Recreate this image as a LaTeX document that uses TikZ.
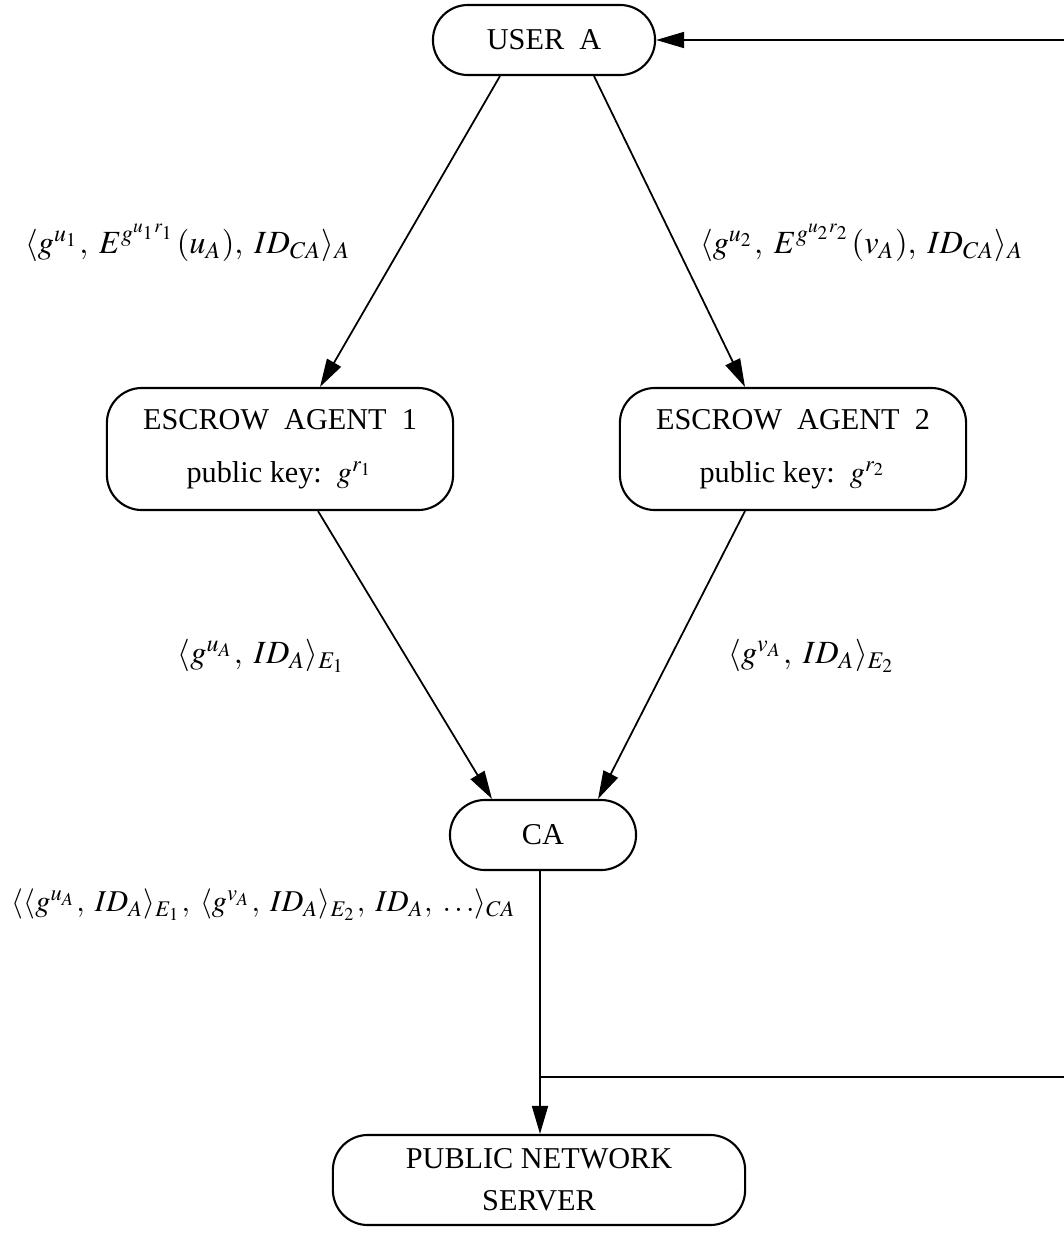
\documentclass[tikz,border=0pt]{standalone}
\usepackage{mathptmx}
\usepackage[no-math]{fontspec}
\setmainfont{Liberation Serif}
\usepackage{tikz}
\usetikzlibrary{arrows.meta, positioning, calc}

\begin{document}
\begin{tikzpicture}[
  x=0.01cm, y=-0.01cm,
  box/.style={draw, line width=0.6pt, rounded corners=0.35cm, align=center,
              inner sep=0pt, font=\fontsize{8.6}{12}\selectfont},
  lbl/.style={font=\fontsize{9.2}{12}\selectfont, inner sep=0pt},
  arr/.style={-{Triangle[length=0.28cm,width=0.16cm]}, line width=0.5pt},
  ln/.style={line width=0.5pt}
]
  \useasboundingbox (0,0) rectangle (1064,1233);

  % User
  \node[box, minimum width=2.22cm, minimum height=0.70cm] (user) at (544,40) {USER\ \ A};

  % Escrow agents
  \node[box, minimum width=3.46cm, minimum height=1.22cm] (esc1) at (280,449)
    {ESCROW\ \ AGENT\ \ 1\\[3pt] public key:\ \ $g^{r_1}$};
  \node[box, minimum width=3.46cm, minimum height=1.22cm] (esc2) at (793,449)
    {ESCROW\ \ AGENT\ \ 2\\[3pt] public key:\ \ $g^{r_2}$};

  % Certification authority
  \node[box, minimum width=1.86cm, minimum height=0.70cm] (ca) at (543,835) {CA};

  % Server
  \node[box, minimum width=4.12cm, minimum height=0.90cm] (pns) at (539,1180)
    {PUBLIC NETWORK\\SERVER};

  % Labels
  \node[lbl] (m1) at (188,243) {$\langle g^{u_1},\; E^{g^{u_1 r_1}}(u_A),\; ID_{CA}\rangle_A$};
  \node[lbl] (m2) at (862,243) {$\langle g^{u_2},\; E^{g^{u_2 r_2}}(v_A),\; ID_{CA}\rangle_A$};
  \node[lbl] (m3) at (262,656) {$\langle g^{u_A},\; ID_A\rangle_{E_1}$};
  \node[lbl] (m4) at (812,656) {$\langle g^{v_A},\; ID_A\rangle_{E_2}$};
  \node[lbl, font=\fontsize{8.6}{12}\selectfont] (m5) at (264,905)
    {$\langle\langle g^{u_A},\; ID_A\rangle_{E_1},\; \langle g^{v_A},\; ID_A\rangle_{E_2},\; ID_A,\; \ldots\rangle_{CA}$};

  % Edge points
  \coordinate (tap) at (540,1077);
  \coordinate (edgebot) at (1064,1077);
  \coordinate (edgetop) at (1064,40);

  % Arrows
  \draw[arr] ([xshift=-0.44cm]user.south) -- ([xshift=0.40cm]esc1.north);
  \draw[arr] ([xshift=0.50cm]user.south) -- ([xshift=-0.48cm]esc2.north);
  \draw[arr] ([xshift=0.38cm]esc1.south) -- ([xshift=-0.51cm]ca.north);
  \draw[arr] ([xshift=-0.48cm]esc2.south) -- ([xshift=0.55cm]ca.north);
  \draw[arr] ([xshift=-0.03cm]ca.south) -- ([xshift=0.01cm]pns.north);
  \draw[ln] (tap) -- (edgebot);
  \draw[arr] (edgetop) -- (user.east);
\end{tikzpicture}
\end{document}
